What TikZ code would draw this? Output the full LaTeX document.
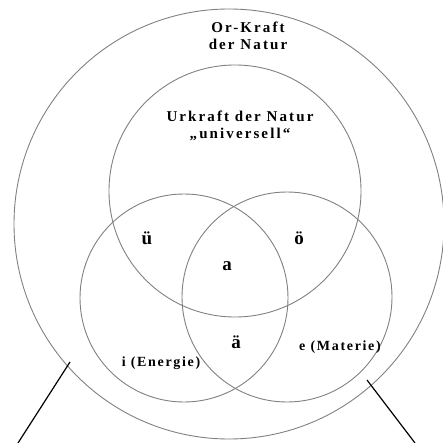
\documentclass[tikz,border=0pt]{standalone}
\usepackage{fontspec}
\setmainfont{Liberation Serif}
\begin{document}
\begin{tikzpicture}[x=1pt,y=-1pt,
  ring/.style={draw=black!50, line width=0.9pt},
  pointer/.style={draw=black, line width=1.2pt},
  lbl/.style={font=\fontsize{15}{17.5}\selectfont\bfseries\addfontfeatures{LetterSpace=14}, inner sep=0pt, align=center},
  sublbl/.style={font=\fontsize{14}{16}\selectfont\bfseries\addfontfeatures{LetterSpace=12}, inner sep=0pt},
  letter/.style={font=\fontsize{19}{21}\selectfont\bfseries, inner sep=0pt}]
\useasboundingbox (0,0) rectangle (443,443);
\draw[ring] (229,224) circle[radius=215];
\draw[ring] (235,191) circle[radius=126];
\draw[ring] (184,298) circle[radius=104];
\draw[ring] (287,297) circle[radius=105];
\node[lbl] (or) at (248,36) {Or-Kraft\\der Natur};
\node[lbl] (ur) at (240,126) {Urkraft der Natur\\„universell“};
\node[letter] (ue) at (147,238) {ü};
\node[letter] (oe) at (299,238) {ö};
\node[letter] (a) at (227,266) {a};
\node[letter] (ae) at (236,342) {ä};
\node[sublbl] (i) at (161,363) {i (Energie)};
\node[sublbl] (e) at (340,347) {e (Materie)};
\coordinate (l1) at (70,362);
\coordinate (l2) at (18,443);
\coordinate (r1) at (367,380);
\coordinate (r2) at (415,443);
\draw[pointer] (l1) -- (l2);
\draw[pointer] (r1) -- (r2);
\end{tikzpicture}
\end{document}
